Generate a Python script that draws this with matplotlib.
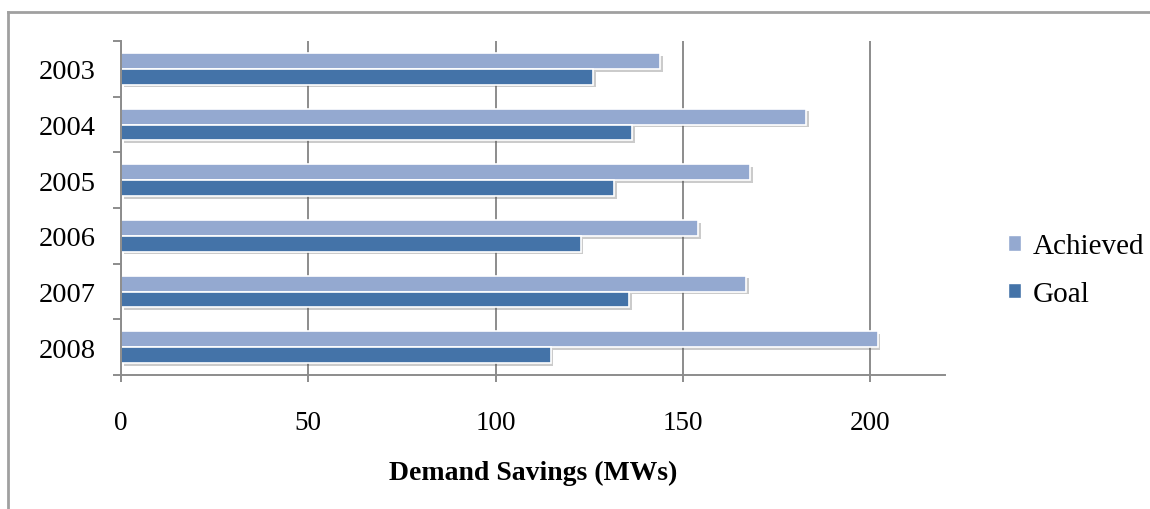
import numpy as np
import matplotlib
matplotlib.use('Agg')
import matplotlib.pyplot as plt
import matplotlib.patheffects as pe
from matplotlib.lines import Line2D
from matplotlib.patches import Patch

years = ["2003", "2004", "2005", "2006", "2007", "2008"]
achieved = [144, 183, 168, 154, 167, 202]
goal = [126, 136.4, 131.7, 122.7, 135.7, 114.7]

light = "#94a9d0"
dark = "#4473a8"
grey = "#8c8c8c"

plt.rcParams['font.family'] = ['Liberation Serif', 'DejaVu Serif']

fig = plt.figure(figsize=(11.5, 5.1), dpi=100)
ax = fig.add_axes([121/1150, 1 - 376/510, (945 - 121)/1150, (376 - 42)/510])

y = np.arange(len(years))
h = 0.285
shadow = [pe.SimplePatchShadow(offset=(2, -2), shadow_rgbFace='#555555', alpha=0.3), pe.Normal()]
b1 = ax.barh(y - h/2, achieved, height=h, color=light, edgecolor='white', linewidth=1.2)
b2 = ax.barh(y + h/2, goal, height=h, color=dark, edgecolor='white', linewidth=1.2)
for bar in list(b1) + list(b2):
    bar.set_path_effects(shadow)

ax.set_xlim(0, 220)
ax.set_ylim(len(years) - 0.5, -0.5)
ax.set_xticks([0, 50, 100, 150, 200])
ax.set_yticks(y)
ax.set_yticklabels(years)
ax.set_yticks(np.arange(-0.5, len(years)), minor=True)

ax.grid(True, axis='x', color=grey, linewidth=1.4)
ax.set_axisbelow(True)
for s in ['top', 'right']:
    ax.spines[s].set_visible(False)
for s in ['left', 'bottom']:
    ax.spines[s].set_color(grey)
    ax.spines[s].set_linewidth(1.4)

ax.tick_params(axis='y', which='major', length=0, pad=18, labelsize=20.5)
ax.tick_params(axis='y', which='minor', length=6, width=1.4, color=grey)
ax.tick_params(axis='x', length=5, width=1.4, color=grey, pad=20, labelsize=19.5)

ax.set_xlabel("Demand Savings (MWs)", fontsize=20, fontweight='bold', labelpad=18)

handles = [Patch(facecolor=light, edgecolor='white'), Patch(facecolor=dark, edgecolor='white')]
fig.legend(handles, ["Achieved", "Goal"], loc='center left',
           bbox_to_anchor=(982/1150, 1 - 271/510), frameon=False, fontsize=21,
           handlelength=0.45, handleheight=0.45, handletextpad=0.4, labelspacing=0.75)

# outer frame, only the top and left edges show
fig.add_artist(Line2D([8/1150, 1], [1 - 13/510, 1 - 13/510], transform=fig.transFigure,
                      color='#a0a0a0', linewidth=2))
fig.add_artist(Line2D([8/1150, 8/1150], [0, 1 - 13/510], transform=fig.transFigure,
                      color='#a0a0a0', linewidth=2))

plt.savefig("out.png", dpi=100)
plt.close()
